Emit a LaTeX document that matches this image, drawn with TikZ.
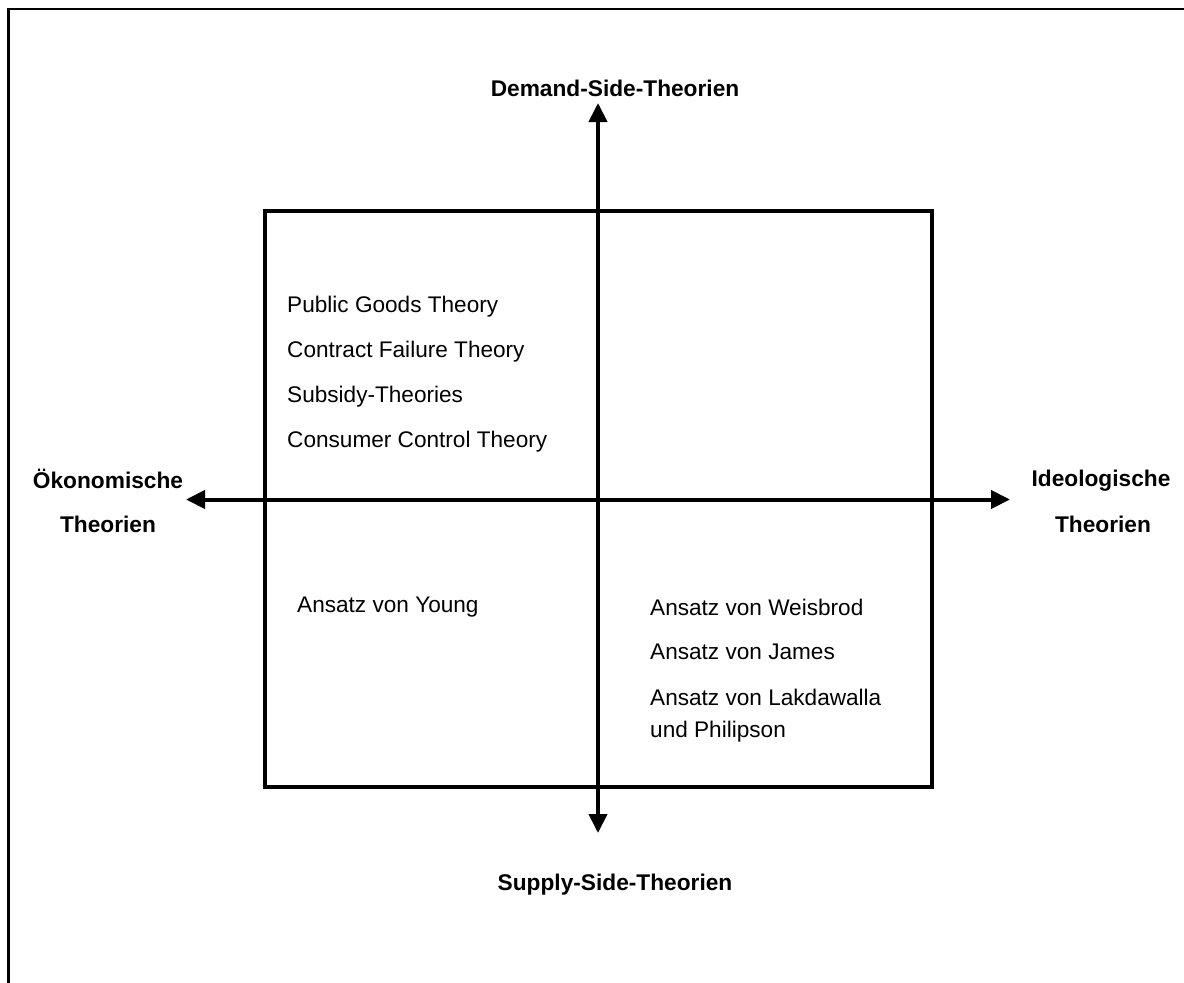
\documentclass[tikz,border=0pt]{standalone}
\usepackage{fontspec}
\setmainfont{Liberation Sans}
\usetikzlibrary{arrows.meta}
\begin{document}
\begin{tikzpicture}[x=1pt,y=-1pt,
  axis/.style={line width=4pt,-{Triangle[length=19pt,width=18pt]}},
  label/.style={font=\fontsize{22.7}{27}\selectfont\bfseries},
  item/.style={font=\fontsize{22.6}{32}\selectfont,anchor=west,inner sep=0pt},
  wrapitem/.style={item,align=left,anchor=west}]
\useasboundingbox (0,0) rectangle (1184,983);
% outer frame (top and left edges)
\draw[line width=2.5pt] (8.5,983) -- (8.5,9) -- (1184,9);
% quadrant box
\draw[line width=4pt] (264.5,211) rectangle (932,787);
% axes
\coordinate (c) at (598,499.5);
\coordinate (top) at (598,103);
\coordinate (bot) at (598,833);
\coordinate (lft) at (186,499.5);
\coordinate (rgt) at (1010,499.5);
\draw[axis] (c) -- (top);
\draw[axis] (c) -- (bot);
\draw[axis] (c) -- (lft);
\draw[axis] (c) -- (rgt);
% axis labels
\node[label] (dem) at (615,88) {Demand-Side-Theorien};
\node[label] (sup) at (615,885) {Supply-Side-Theorien};
\node[label] (oek1) at (108,479) {Ökonomische};
\node[label] (oek2) at (108,524) {Theorien};
\node[label] (ide1) at (1101,481) {Ideologische};
\node[label] (ide2) at (1103,524) {Theorien};
% upper left quadrant
\node[item] (a1) at (287,307) {Public Goods Theory};
\node[item] (a2) at (287,352) {Contract Failure Theory};
\node[item] (a3) at (287,397) {Subsidy-Theories};
\node[item] (a4) at (287,442) {Consumer Control Theory};
% lower left quadrant
\node[item] (b1) at (297,607) {Ansatz von Young};
% lower right quadrant
\node[item] (d1) at (650,607) {Ansatz von Weisbrod};
\node[item] (d2) at (650,652) {Ansatz von James};
\node[wrapitem] (d3) at (650,716) {Ansatz von Lakdawalla\\und Philipson};
\end{tikzpicture}
\end{document}
